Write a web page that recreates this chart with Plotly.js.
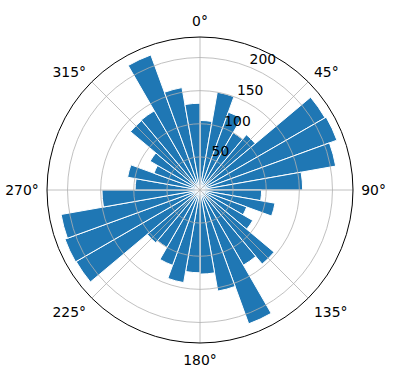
<!DOCTYPE html>
<html>
<head>
<meta charset="utf-8">
<script src="https://cdn.plot.ly/plotly-3.0.1.min.js"></script>
<style>html,body{margin:0;padding:0;background:#fff;}#chart{width:396px;height:380px;}</style>
</head>
<body>
<div id="chart"></div>
<script>
// Bin centres (degrees, clockwise from north)
const binCenters = [5,15,25,35,45,55,65,75,85,95,105,115,125,135,145,155,165,175,
                    185,195,205,215,225,235,245,255,265,275,285,295,305,315,325,335,345,355];
// Bar heights
const counts = [105,150,125,100,109,218,220,208,155,93,115,75,92,146,131,215,155,127,
                125,142,121,100,104,216,217,213,148,98,111,74,87,137,138,217,157,131];
const binWidth = 10;
const radialTicks = [50,100,150,200];
const angularTicks = [0,45,90,135,180,225,270,315];
const angularLabels = ['0°','45°','90°','135°','180°','225°','270°','315°'];

const rMax = Math.max(...counts) * 1.05;
const font = {family: 'DejaVu Sans', size: 13.9, color: '#000'};

const W = 396, H = 380;
// main polar area in pixels (left, top, size); dx/dy = screen-pixel shift (right / down)
const pl = 47, pt = 37, ps = 306;
const dom = (dx, dy) => ({
  x: [(pl + dx) / W, (pl + ps + dx) / W],
  y: [(H - pt - ps - dy) / H, (H - pt - dy) / H]
});

const traces = [
  {type: 'barpolar', r: counts, theta: binCenters,
   width: binCenters.map(() => binWidth),
   marker: {color: '#1f77b4', line: {color: '#ffffff', width: 1}},
   subplot: 'polar', hoverinfo: 'skip'},
  {type: 'scatterpolar', r: [], theta: [], mode: 'markers', subplot: 'polar2', hoverinfo: 'skip'},
  {type: 'scatterpolar', r: [], theta: [], mode: 'markers', subplot: 'polar3', hoverinfo: 'skip'}
];

const commonAngular = {
  rotation: 90, direction: 'clockwise',
  tickmode: 'array', tickvals: angularTicks, ticktext: angularLabels
};
const commonRadial = {
  range: [0, rMax], tickmode: 'array', tickvals: radialTicks,
  ticks: '', angle: 67.5, tickangle: 67.5
};
const hiddenAngular = Object.assign({}, commonAngular, {ticks: '', showgrid: false, showline: false, showticklabels: false});

const layout = {
  width: W, height: H,
  margin: {l: 0, r: 0, t: 0, b: 0},
  paper_bgcolor: '#ffffff',
  showlegend: false,
  font: font,
  polar: {
    domain: dom(0, 0),
    bgcolor: '#ffffff',
    angularaxis: hiddenAngular,
    radialaxis: Object.assign({}, commonRadial, {showgrid: false, showline: false, showticklabels: false})
  },
  polar2: {
    domain: dom(0, 0),
    bgcolor: 'rgba(0,0,0,0)',
    angularaxis: Object.assign({}, commonAngular, {
      ticks: 'outside', ticklen: 5, tickcolor: 'rgba(0,0,0,0)',
      showgrid: true, gridcolor: '#b0b0b0', gridwidth: 0.8,
      showline: true, linecolor: '#000000', linewidth: 1,
      tickfont: font
    }),
    radialaxis: Object.assign({}, commonRadial, {
      showgrid: true, gridcolor: '#b0b0b0', gridwidth: 0.8,
      showline: false, showticklabels: false
    })
  },
  // radial tick labels, placed like matplotlib's (offset outward from the tick point)
  polar3: {
    domain: dom(-8, -13),
    bgcolor: 'rgba(0,0,0,0)',
    angularaxis: hiddenAngular,
    radialaxis: Object.assign({}, commonRadial, {
      showgrid: false, showline: false, showticklabels: true,
      tickfont: font, side: 'clockwise'
    })
  }
};

Plotly.newPlot('chart', traces, layout, {staticPlot: true, displayModeBar: false});
</script>
</body>
</html>
